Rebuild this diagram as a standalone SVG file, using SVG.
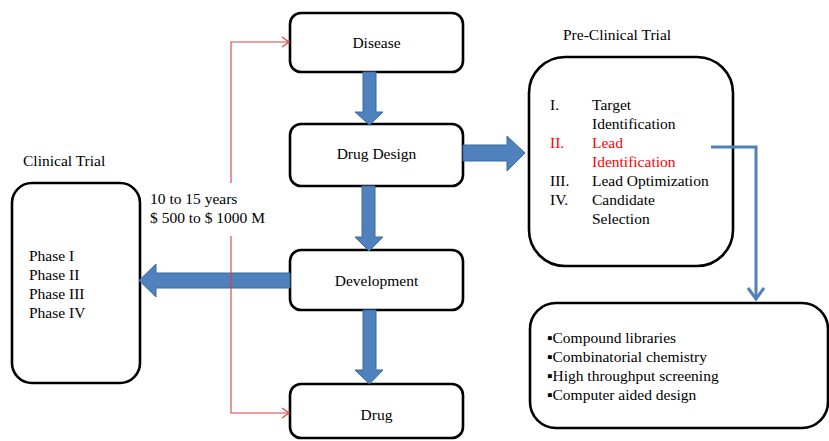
<svg xmlns="http://www.w3.org/2000/svg" width="829" height="441" viewBox="0 0 829 441" font-family="'Liberation Serif', 'Times New Roman', Tinos, 'Noto Serif', 'DejaVu Serif', serif" font-size="15.5">
  <defs>
    <style>
      .c { text-anchor: middle; }
      .box { fill: #fff; stroke: #000; stroke-width: 2.6; }
      .fat { fill: #4F81BD; stroke: #3B6A9F; stroke-width: 1; }
      .red { fill: none; stroke: #D9403A; stroke-width: 1.1; }
      .blue { fill: none; stroke: #4F81BD; stroke-width: 3; stroke-linejoin: miter; }
      .hl { fill: #FF0000; }
    </style>
  </defs>

  <!-- nodes -->
  <g id="disease">
    <rect class="box" x="290" y="13" width="173" height="59" rx="11"/>
    <text class="c" x="376.5" y="48">Disease</text>
  </g>
  <g id="drug-design">
    <rect class="box" x="290" y="124" width="173" height="62" rx="11"/>
    <text class="c" x="376.5" y="159">Drug Design</text>
  </g>
  <g id="development">
    <rect class="box" x="290" y="250" width="173" height="60" rx="11"/>
    <text class="c" x="376.5" y="286">Development</text>
  </g>
  <g id="drug">
    <rect class="box" x="290" y="384" width="173" height="54" rx="11"/>
    <text class="c" x="376.5" y="420">Drug</text>
  </g>
  <g id="clinical-trial">
    <text x="23" y="166">Clinical Trial</text>
    <rect class="box" x="12" y="183" width="128" height="200" rx="20"/>
    <text x="29" y="261">Phase I</text>
    <text x="29" y="280">Phase II</text>
    <text x="29" y="299">Phase III</text>
    <text x="29" y="318">Phase IV</text>
  </g>
  <g id="pre-clinical-trial">
    <text x="563" y="40">Pre-Clinical Trial</text>
    <rect class="box" x="529" y="57" width="204" height="209" rx="36"/>
    <text x="550" y="110">I.</text>
    <text x="592" y="110">Target</text>
    <text x="592" y="129">Identification</text>
    <text class="hl" x="550" y="148">II.</text>
    <text class="hl" x="592" y="148">Lead</text>
    <text class="hl" x="592" y="167">Identification</text>
    <text x="550" y="186">III.</text>
    <text x="592" y="186">Lead Optimization</text>
    <text x="550" y="205">IV.</text>
    <text x="592" y="205">Candidate</text>
    <text x="592" y="224">Selection</text>
  </g>
  <g id="lead-methods">
    <rect class="box" x="530" y="303" width="298" height="125" rx="26"/>
    <text x="547" y="343">▪Compound libraries</text>
    <text x="547" y="362">▪Combinatorial chemistry</text>
    <text x="547" y="381">▪High throughput screening</text>
    <text x="547" y="400">▪Computer aided design</text>
  </g>
  <g id="timeline-note">
    <text x="150" y="204">10 to 15 years</text>
    <text x="150" y="223">$ 500 to $ 1000 M</text>
  </g>

  <!-- connectors -->
  <g id="connectors">
    <!-- block arrows -->
    <path class="fat" d="M363,72 H376 V112 H383 L369.5,125 L355,112 H363 Z"/>
    <path class="fat" d="M362,186 H375 V237 H383 L369,251 L355,237 H362 Z"/>
    <path class="fat" d="M363,310 H376 V370 H383 L369.5,384 L355,370 H363 Z"/>
    <path class="fat" d="M463,145 H507 V136 L525,153 L507,171 V161 H463 Z"/>
    <path class="fat" d="M290,273 H156 V264 L139,280.5 L156,297 V288 H290 Z"/>
    <!-- lead identification to screening methods -->
    <path class="blue" d="M711,147 H756 V298"/>
    <path class="blue" d="M748,288 L756,299 L764,288"/>
    <!-- timeline bracket -->
    <path class="red" d="M290,42 H231 V183 M231,236 V413 H290"/>
    <path class="red" d="M282,37 L289,42 L282,47"/>
    <path class="red" d="M282,408 L289,413 L282,418"/>
  </g>
</svg>
